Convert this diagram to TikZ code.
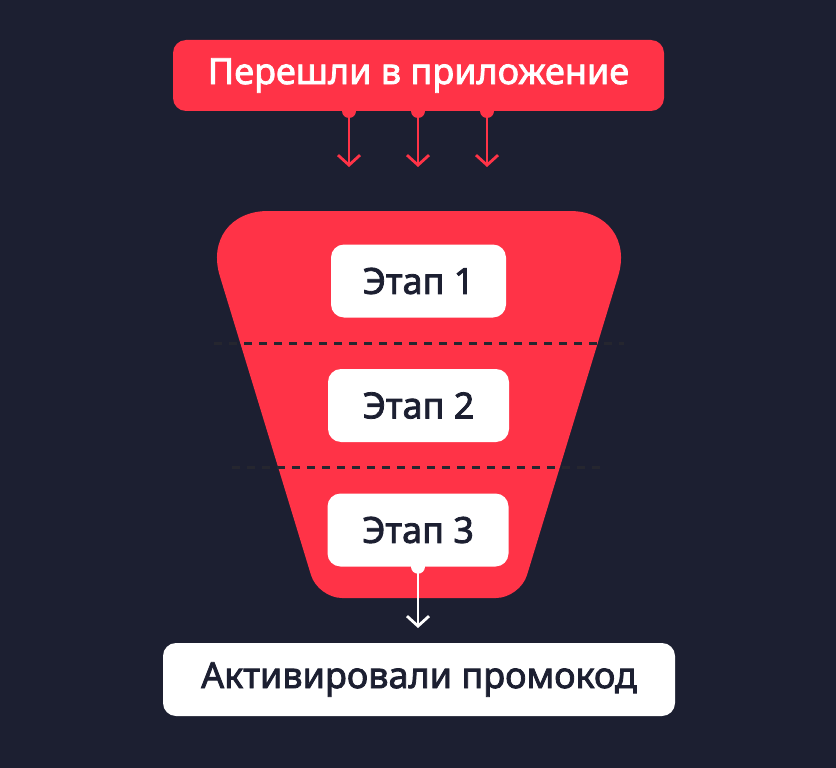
\documentclass[tikz,border=0pt]{standalone}
\usepackage{fontspec}
\setmainfont{Noto Sans}[AutoFakeBold=2.2]
\usetikzlibrary{arrows.meta}
\definecolor{bgc}{HTML}{1C1F31}
\definecolor{redc}{HTML}{FF3347}
\definecolor{dashc}{HTML}{25262F}
\tikzset{
  lbl/.style={font=\fontsize{36}{40}\selectfont\bfseries, inner sep=0pt, rounded corners=13pt},
  topbox/.style={lbl, fill=redc, text=white, minimum width=491pt, minimum height=71pt},
  stagebox/.style={lbl, fill=white, text=bgc, minimum width=181pt, minimum height=73pt},
  endbox/.style={lbl, fill=white, text=bgc, minimum width=512pt, minimum height=73pt},
  redarrow/.style={draw=redc, line width=2.8pt, -{Straight Barb[length=10pt,width=22pt]}},
  whitearrow/.style={draw=white, line width=2.8pt, -{Straight Barb[length=10pt,width=22pt]}},
  sep/.style={draw=dashc, line width=3pt, dash pattern=on 8pt off 7pt},
}
\begin{document}
\begin{tikzpicture}[x=1pt,y=-1pt]
\useasboundingbox (0,0) rectangle (836,768);
\fill[bgc] (0,0) rectangle (836,768);
% funnel
\fill[redc] (419,598) [rounded corners=24pt] -- (318,598) [rounded corners=68pt] -- (200,211) -- (638,211) [rounded corners=24pt] -- (520,598) [sharp corners] -- cycle;
\draw[sep] (214,343) -- (624,343);
\draw[sep] (232,467) -- (607,467);
% nodes
\node[topbox] (top) at (418.5,75.5) {Перешли в приложение};
\node[stagebox, minimum width=175pt] (s1) at (418.5,281) {Этап 1};
\node[stagebox] (s2) at (418.5,405.5) {Этап 2};
\node[stagebox] (s3) at (418,530) {Этап 3};
\node[endbox] (fin) at (419,679.5) {Активировали промокод};
% connectors
\coordinate (a1) at (349,111);
\coordinate (a2) at (418,111);
\coordinate (a3) at (487,111);
\coordinate (e1) at (349,167);
\coordinate (e2) at (418,167);
\coordinate (e3) at (487,167);
\foreach \i in {1,2,3} {
  \fill[redc] (a\i) circle (7pt);
  \draw[redarrow] (a\i) -- (e\i);
}
\coordinate (b1) at (s3.south);
\coordinate (b2) at (418,628);
\fill[white] (b1) circle (7pt);
\draw[whitearrow] (b1) -- (b2);
\end{tikzpicture}
\end{document}
